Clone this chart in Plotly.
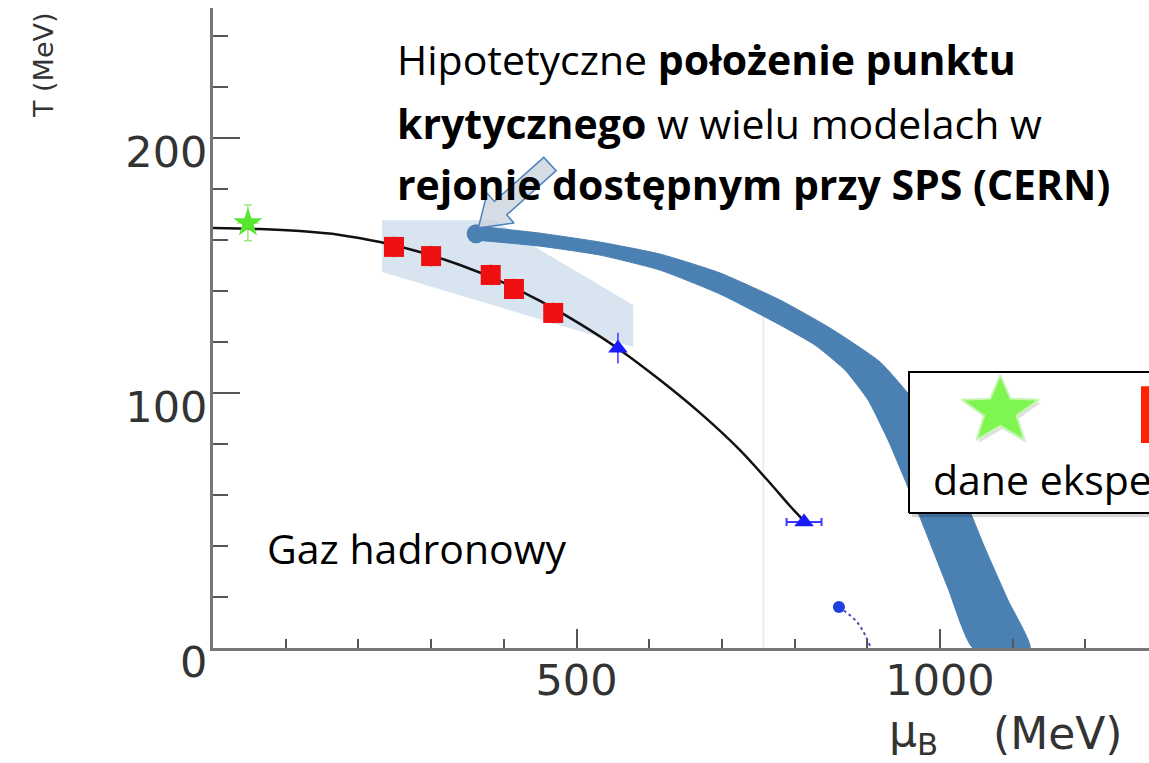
import math
import plotly.graph_objects as go

# ---- chemical freeze-out curve (mu_B [MeV], T [MeV]) ----
curve_mu = [0, 64.6, 119.7, 174.7, 229.7, 284.7, 339.8, 394.8, 449.8, 504.8,
            559.8, 614.9, 669.9, 724.9, 766.2, 793.7, 814.3]
curve_T = [164.7, 164.3, 163.5, 162.0, 159.2, 155.3, 150.2, 143.9, 136.1, 127.1,
           116.9, 105.1, 92.2, 77.6, 64.7, 55.7, 49.4]

# ---- experimental points ----
star_mu = [48]
star_T = [166.7]
star_err_mu = [15]
star_err_T = [7]

square_mu = [249, 300, 382, 414, 468]
square_T = [157.3, 153.7, 146.3, 140.8, 131.4]
square_err_T = [4, 4, 4, 4, 4]

triangle_mu = [557, 813]
triangle_T = [117.6, 49.4]
triangle_err_mu = [0, 24]
triangle_err_T = [6, 0]

# nuclear matter point and its dotted continuation
nm_mu = [861, 887, 905]
nm_T = [16.1, 9.8, 0]

# ---- critical point and the first-order transition band ----
cp_mu = [362]
cp_T = [162.5]

band_outer_mu = [360.4, 449.8, 532.3, 614.9, 697.4, 779.9, 848.7, 917.5, 965.6,
                 1000.0, 1030.3, 1061.9, 1093.5, 1123.8]
band_outer_T = [165.5, 162.7, 159.2, 154.5, 147.1, 136.5, 125.5, 112.2, 96.5,
                80.4, 61.2, 39.2, 18.8, 0]
band_inner_mu = [1045.4, 1011.0, 979.4, 951.9, 928.5, 901.0, 869.3, 828.1, 779.9,
                 697.4, 614.9, 532.3, 449.8, 360.4]
band_inner_T = [0, 23.5, 46.3, 65.9, 81.6, 97.3, 109.0, 118.8, 126.7,
                138.8, 148.2, 154.1, 157.6, 160.0]

# ---- region reachable at SPS ----
sps_mu = [232.5, 388, 450, 578, 578, 232.5, 232.5]
sps_T = [167.8, 167.8, 156.1, 134.5, 118.0, 147.5, 167.8]

# ---- block arrow pointing at the critical point ----
arrow_mu = [365, 414, 404, 472, 455, 387, 377, 365]
arrow_T = [164.7, 166.7, 169.9, 187.2, 192.4, 175.1, 178.4, 164.7]

# ---- legend box contents ----
legend_box_mu = [957.4, 1400, 1400, 957.4, 957.4]
legend_box_T = [52.9, 52.9, 108.2, 108.2, 52.9]
legend_shadow_mu = [961.5, 1400, 1400, 961.5, 961.5]
legend_shadow_T = [51.3, 51.3, 106.6, 106.6, 51.3]
legend_square_mu = [1276.5, 1400, 1400, 1276.5, 1276.5]
legend_square_T = [80.4, 80.4, 102.7, 102.7, 80.4]
legend_star_center = (1083, 93.0)     # mu, T
legend_star_radius = (56.0, 12.6)     # half-width in mu, half-height in T

# ---- axes ----
x_range = [0, 1287.5]
y_range = [0, 251]
x_tick_vals = [500, 1000]
x_tick_text = ["500", "1000"]
y_tick_vals = [0, 100, 200]
y_tick_text = ["0", "100", "200"]

BAND = "#4b80b3"
TXT_FONT = "Open Sans"


def poly(xs, ys, fill, line_color=None, width=0, **kw):
    return go.Scatter(x=xs, y=ys, mode="lines", fill="toself", fillcolor=fill,
                      line=dict(color=line_color or fill, width=width, **kw),
                      hoverinfo="skip", showlegend=False, cliponaxis=False)


def star_outline(center, radius, inner=0.42):
    """Five-pointed star glyph (wide, flattened) for the legend box."""
    cx, cy = center
    rx, ry = radius
    xs, ys = [], []
    for k in range(11):
        ang = math.pi / 2 + k * math.pi / 5
        r = 1.0 if k % 2 == 0 else inner
        xs.append(cx + rx * r * math.cos(ang))
        ys.append(cy + ry * r * math.sin(ang) * 1.12)
    return xs, ys


fig = go.Figure()

# SPS region
fig.add_trace(poly(sps_mu, sps_T, "#d8e4f0"))

# faint vertical seam
fig.add_trace(go.Scatter(x=[757, 757], y=[0, 133], mode="lines",
                         line=dict(color="#ececec", width=2),
                         hoverinfo="skip", showlegend=False))

# first-order transition band
band = poly(band_outer_mu + band_inner_mu, band_outer_T + band_inner_T, BAND,
            width=1, shape="spline", smoothing=0.5)
band.cliponaxis = True
fig.add_trace(band)

# critical point
fig.add_trace(go.Scatter(x=cp_mu, y=cp_T, mode="markers",
                         marker=dict(size=19, color=BAND, line=dict(width=0)),
                         showlegend=False))

# freeze-out curve
fig.add_trace(go.Scatter(x=curve_mu, y=curve_T, mode="lines",
                         line=dict(color="#111111", width=2.5, shape="spline", smoothing=0.8),
                         hoverinfo="skip", showlegend=False))

# dotted line towards nuclear matter
fig.add_trace(go.Scatter(x=nm_mu, y=nm_T, mode="lines",
                         line=dict(color="#4a4ab8", width=2, dash="dot", shape="spline"),
                         hoverinfo="skip", showlegend=False))
fig.add_trace(go.Scatter(x=nm_mu[:1], y=nm_T[:1], mode="markers",
                         marker=dict(size=12, color="#1f3fe0"),
                         showlegend=False))

# experimental points
fig.add_trace(go.Scatter(x=square_mu, y=square_T, mode="markers",
                         marker=dict(symbol="square", size=20, color="#ee1010"),
                         error_y=dict(type="data", array=square_err_T, color="#ee1010",
                                      thickness=2, width=0),
                         showlegend=False))
fig.add_trace(go.Scatter(x=triangle_mu, y=triangle_T, mode="markers",
                         marker=dict(symbol="triangle-up", size=17, color="#1a1aff"),
                         error_x=dict(type="data", array=triangle_err_mu, color="#3a3aff",
                                      thickness=2, width=4),
                         error_y=dict(type="data", array=triangle_err_T, color="#3a3aff",
                                      thickness=1.5, width=0),
                         showlegend=False))
fig.add_trace(go.Scatter(x=star_mu, y=star_T, mode="markers",
                         marker=dict(symbol="star", size=22, color="#55e630"),
                         error_x=dict(type="data", array=star_err_mu, color="#9be87f",
                                      thickness=1.5, width=0),
                         error_y=dict(type="data", array=star_err_T, color="#9be87f",
                                      thickness=1.5, width=4),
                         showlegend=False))

# block arrow
fig.add_trace(poly(arrow_mu, arrow_T, "rgba(200,208,218,0.75)", line_color="#4f81bd", width=1.5))

# legend box with shadow, coloured markers on top
fig.add_trace(poly(legend_shadow_mu, legend_shadow_T, "rgba(0,0,0,0.16)"))
fig.add_trace(poly(legend_box_mu, legend_box_T, "white", line_color="black", width=2))
fig.add_trace(poly(legend_square_mu, legend_square_T, "#ff2200"))
sx, sy = star_outline((legend_star_center[0] + 3, legend_star_center[1] - 1.2), legend_star_radius)
fig.add_trace(poly(sx, sy, "rgba(0,0,0,0.12)"))
sx, sy = star_outline(legend_star_center, legend_star_radius)
fig.add_trace(poly(sx, sy, "#7ef551", line_color="#c8f6b4", width=2))

annotations = [
    dict(x=250, y=231.0, text="Hipotetyczne <b>położenie punktu</b>"),
    dict(x=250, y=205.9, text="<b>krytycznego</b> w wielu modelach w"),
    dict(x=250, y=182.0, text="<b>rejonie dostępnym przy SPS (CERN)</b>"),
    dict(x=71.5, y=39.2, text="Gaz hadronowy"),
    dict(x=987, y=66.3, text="dane eksperymentalne"),
]
for a in annotations:
    fig.add_annotation(x=a["x"], y=a["y"], xref="x", yref="y", text=a["text"],
                       showarrow=False, xanchor="left", yanchor="middle",
                       font=dict(family=TXT_FONT, size=41, color="black"))

# axis titles
fig.add_annotation(x=-(213 - 43) / 936, y=(648 - 65) / 640, xref="paper", yref="paper",
                   text="T (MeV)", textangle=-90, showarrow=False,
                   xanchor="center", yanchor="middle",
                   font=dict(family="DejaVu Sans", size=27, color="#333"))
fig.add_annotation(x=(913 - 213) / 936, y=-(733 - 648) / 640, xref="paper", yref="paper",
                   text="μ<sub>B</sub>", showarrow=False,
                   xanchor="center", yanchor="middle",
                   font=dict(family="DejaVu Sans", size=44, color="#333"))
fig.add_annotation(x=(1057 - 213) / 936, y=-(733 - 648) / 640, xref="paper", yref="paper",
                   text="(MeV)", showarrow=False,
                   xanchor="center", yanchor="middle",
                   font=dict(family="DejaVu Sans", size=44, color="#333"))

fig.update_layout(
    width=1149, height=763,
    margin=dict(l=213, r=0, t=8, b=115),
    paper_bgcolor="white", plot_bgcolor="white",
    xaxis=dict(range=x_range, showgrid=False, zeroline=False,
               showline=True, linecolor="#777", linewidth=3,
               tickmode="array", tickvals=x_tick_vals, ticktext=x_tick_text,
               ticks="inside", ticklen=19, tickwidth=2, tickcolor="#555",
               ticklabelstandoff=-8,
               minor=dict(dtick=100, tick0=0, ticks="inside", ticklen=9,
                          tickwidth=2, tickcolor="#555"),
               tickfont=dict(family="DejaVu Sans", size=43, color="#333")),
    yaxis=dict(range=y_range, showgrid=False, zeroline=False,
               showline=True, linecolor="#777", linewidth=3,
               tickmode="array", tickvals=y_tick_vals, ticktext=y_tick_text,
               ticks="inside", ticklen=27, tickwidth=2, tickcolor="#555",
               ticklabelshift=14, ticklabelstandoff=-6,
               minor=dict(dtick=20, tick0=0, ticks="inside", ticklen=15,
                          tickwidth=2, tickcolor="#555"),
               tickfont=dict(family="DejaVu Sans", size=43, color="#333")),
)

fig.write_html("out.html")
